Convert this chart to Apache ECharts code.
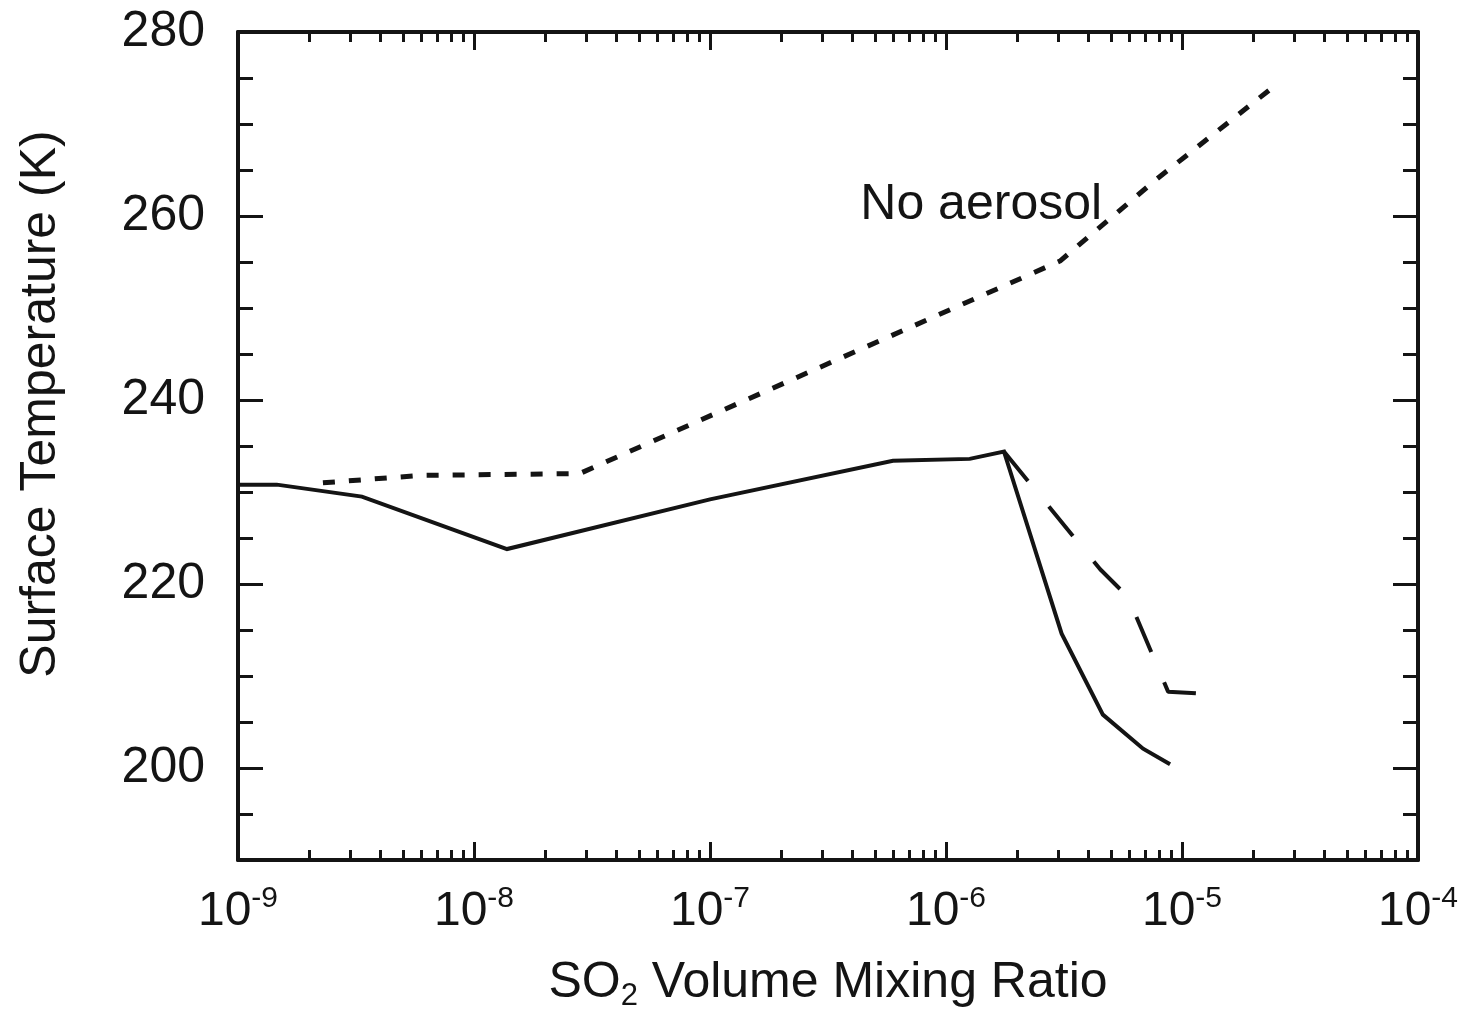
<!DOCTYPE html>
<html><head><meta charset="utf-8">
<script src="https://cdn.jsdelivr.net/npm/echarts@6/dist/echarts.min.js"></script>
<style>html,body{margin:0;padding:0;background:#fff}#c{width:1465px;height:1017px}</style>
</head><body><div id="c"></div>
<script>
// ---- data (x = SO2 volume mixing ratio, T = surface temperature in K) ----
const xDecadeExponents = [-9, -8, -7, -6, -5, -4];
const yTickLabels = [200, 220, 240, 260, 280];
const yMinorTicks = [195, 205, 210, 215, 225, 230, 235, 245, 250, 255, 265, 270, 275];

const solidX = [1e-9, 1.46e-9, 3.35e-9, 1.38e-8, 1e-7, 5.96e-7, 1.26e-6, 1.76e-6, 3.09e-6, 4.62e-6, 6.84e-6, 8.9e-6];
const solidT = [230.8, 230.8, 229.5, 223.8, 229.2, 233.4, 233.6, 234.4, 214.6, 205.8, 202.1, 200.4];

const dashedX = [1.76e-6, 4.5e-6, 5.9e-6, 8.73e-6, 1.17e-5];
const dashedT = [234.4, 221.6, 218.6, 208.3, 208.1];

const noAerosolX = [2.29e-9, 5.9e-9, 2.8e-8, 3.04e-6, 7.8e-6, 2.4e-5];
const noAerosolT = [231.0, 231.8, 232.0, 255.1, 264.0, 273.9];

const noAerosolLabel = 'No aerosol';
const noAerosolLabelAt = [1.41e-6, 261.2];

// ---- build ----
const FONT = "'Liberation Sans', Arial, Helvetica, sans-serif";
const INK = '#141414';
const FS = 50;
const lg = v => Math.log10(v);
const pairs = (xs, ts) => xs.map((x, i) => [lg(x), ts[i]]);

const xMinor = [];
for (let n = xDecadeExponents[0]; n < xDecadeExponents[xDecadeExponents.length - 1]; n++) {
  for (let k = 2; k <= 9; k++) xMinor.push(n + Math.log10(k));
}
const xMin = xDecadeExponents[0], xMax = xDecadeExponents[xDecadeExponents.length - 1];
const yMin = 190, yMax = 280;

function xAx(pos, major, showLabel) {
  return {
    type: 'value', min: xMin, max: xMax, position: pos,
    interval: 1,
    axisLine: { show: major, onZero: false, lineStyle: { color: INK, width: 4 } },
    axisTick: major
      ? { show: true, inside: true, length: 18, lineStyle: { color: INK, width: 3 } }
      : { show: true, inside: true, length: 10, customValues: xMinor, lineStyle: { color: INK, width: 3 } },
    axisLabel: showLabel ? {
      show: true, margin: 24, color: INK, fontFamily: FONT,
      formatter: v => '{b|10}{s|' + v + '}',
      rich: {
        b: { fontSize: 48, fontFamily: FONT, color: INK, lineHeight: 56 },
        s: { fontSize: 30, fontFamily: FONT, color: INK, lineHeight: 30, verticalAlign: 'top' }
      }
    } : { show: false },
    splitLine: { show: false }
  };
}
function yAx(pos, major, showLabel) {
  return {
    type: 'value', min: yMin, max: yMax, position: pos,
    axisLine: { show: major, onZero: false, lineStyle: { color: INK, width: 4 } },
    axisTick: { show: true, inside: true, length: major ? 25 : 15,
      customValues: major ? yTickLabels : yMinorTicks, lineStyle: { color: INK, width: 3 } },
    axisLabel: showLabel ? { show: true, customValues: yTickLabels, margin: 33, color: INK,
      fontSize: FS, fontFamily: FONT } : { show: false },
    splitLine: { show: false }
  };
}

const xAxes = [xAx('bottom', true, true), xAx('bottom', false, false), xAx('top', true, false), xAx('top', false, false)];
xAxes[0].name = '{n|SO}{sub|2}{n| Volume Mixing Ratio}';
xAxes[0].nameLocation = 'middle';
xAxes[0].nameGap = 94;
xAxes[0].nameTextStyle = {
  color: INK, fontFamily: FONT,
  rich: {
    n: { fontSize: FS, fontFamily: FONT, color: INK, lineHeight: 58 },
    sub: { fontSize: 31, fontFamily: FONT, color: INK, lineHeight: 31, verticalAlign: 'bottom' }
  }
};
const yAxes = [yAx('left', true, true), yAx('left', false, false), yAx('right', true, false), yAx('right', false, false)];
yAxes[0].name = 'Surface Temperature (K)';
yAxes[0].nameLocation = 'middle';
yAxes[0].nameGap = 172;
yAxes[0].nameTextStyle = { color: INK, fontFamily: FONT, fontSize: FS, padding: [0, 0, 0, 84] };

const chart = echarts.init(document.getElementById('c'), null, { renderer: 'canvas' });
chart.setOption({
  backgroundColor: '#ffffff',
  animation: false,
  grid: { left: 238, top: 32, width: 1180, height: 830, containLabel: false },
  xAxis: xAxes,
  yAxis: yAxes,
  series: [
    {
      type: 'line', name: 'with aerosol', data: pairs(solidX, solidT),
      showSymbol: false, symbol: 'none',
      lineStyle: { color: INK, width: 4, type: 'solid', join: 'miter' }
    },
    {
      type: 'line', name: 'dashed', data: pairs(dashedX, dashedT),
      showSymbol: false, symbol: 'none',
      lineStyle: { color: INK, width: 4, type: [38, 33], cap: 'butt' }
    },
    {
      type: 'line', name: noAerosolLabel, data: pairs(noAerosolX, noAerosolT),
      showSymbol: false, symbol: 'none',
      lineStyle: { color: INK, width: 5, type: [12, 14], cap: 'butt' },
      markPoint: {
        symbol: 'circle', symbolSize: 1, itemStyle: { color: 'rgba(0,0,0,0)' },
        label: { show: true, position: 'inside', formatter: noAerosolLabel,
          color: INK, fontSize: FS, fontFamily: FONT },
        data: [{ coord: [lg(noAerosolLabelAt[0]), noAerosolLabelAt[1]] }]
      }
    }
  ]
});
</script></body></html>
